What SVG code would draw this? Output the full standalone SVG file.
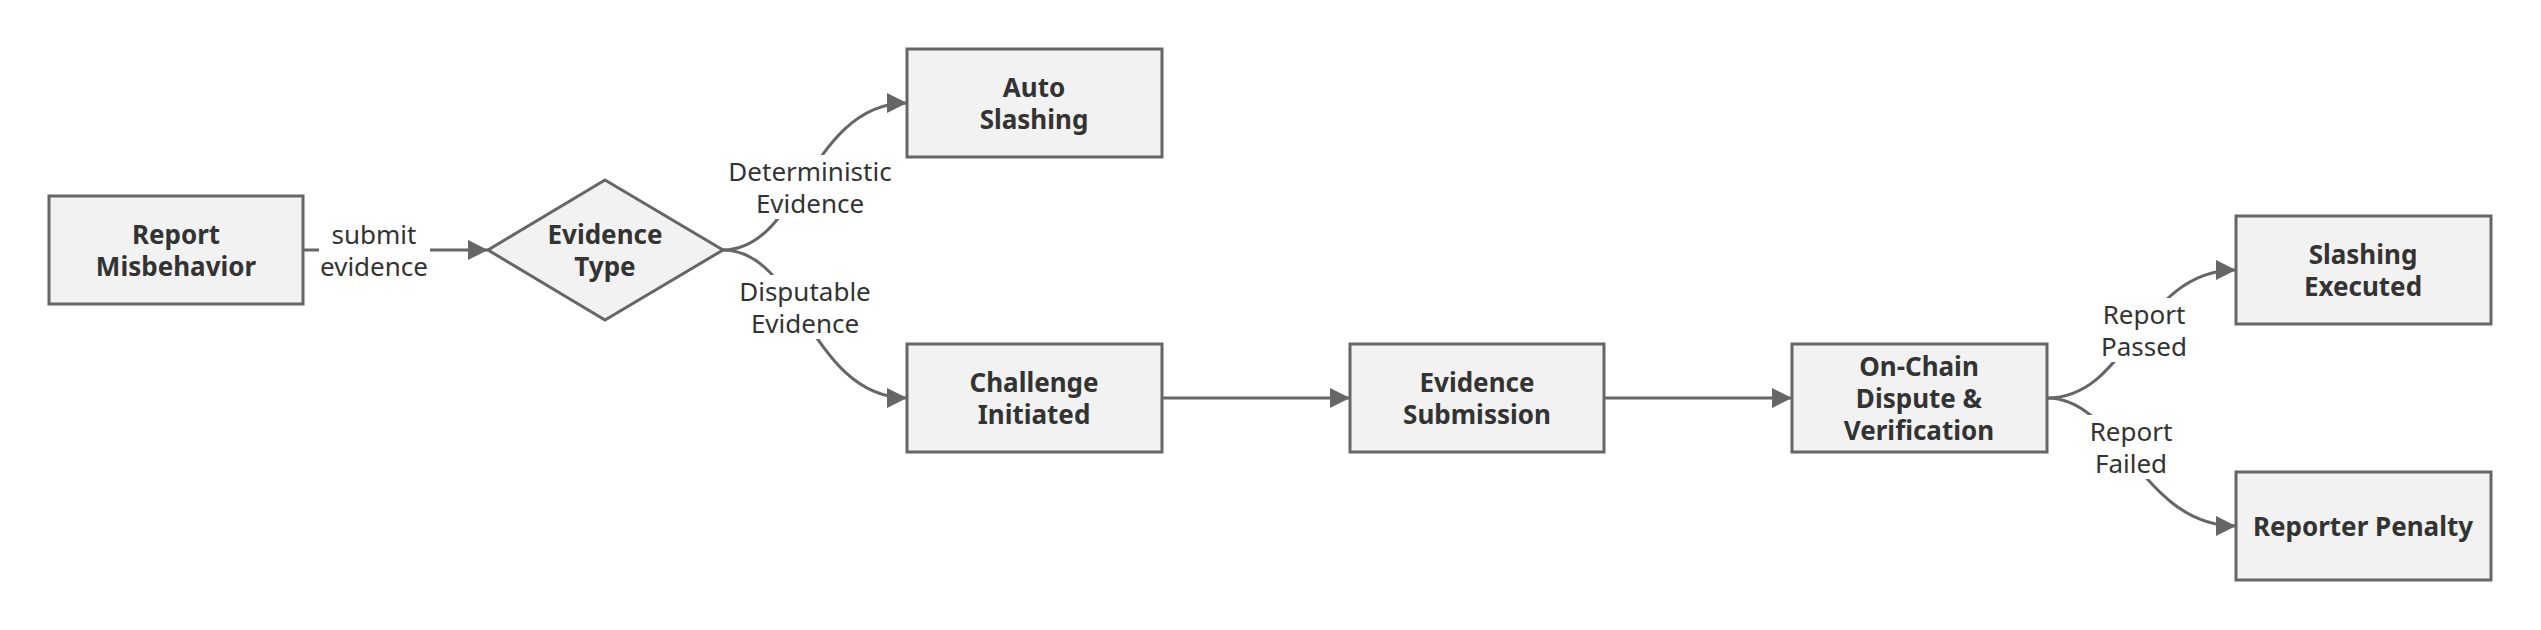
<svg xmlns="http://www.w3.org/2000/svg" width="2541" height="630" viewBox="0 0 2541 630">
<style>
.node rect,.node polygon{fill:#f2f2f2;stroke:#666;stroke-width:3}
.nt{font-family:"Noto Sans","Open Sans","DejaVu Sans",sans-serif;font-size:26px;font-weight:bold;fill:#333;text-anchor:middle;dominant-baseline:central}
.et{font-family:"Noto Sans","Open Sans","DejaVu Sans",sans-serif;font-size:26px;fill:#333;text-anchor:middle;dominant-baseline:central}
.edge{fill:none;stroke:#666;stroke-width:3;marker-end:url(#arr)}
.lbg{fill:#fff}
</style>
<defs>
<marker id="arr" viewBox="0 0 10 10" refX="10" refY="5" markerUnits="userSpaceOnUse" markerWidth="24" markerHeight="20" orient="auto">
<path d="M0,0 L10,5 L0,10 z" fill="#666"/>
</marker>
</defs>
<rect width="2541" height="630" fill="#fff"/>
<g id="connectors">
<path class="edge" d="M303,250 L488,250"/>
<path class="edge" d="M723,250 C800,250 810,103 907,103"/>
<path class="edge" d="M723,250 C800,250 810,398 907,398"/>
<path class="edge" d="M1162,398 L1350,398"/>
<path class="edge" d="M1604,398 L1792,398"/>
<path class="edge" d="M2047,398 C2130,398 2140,270 2236,270"/>
<path class="edge" d="M2047,398 C2120,398 2140,526 2236,526"/>
</g>
<g id="edge-labels">
<g id="lbl-submit"><rect class="lbg" x="319" y="218" width="111" height="64"/><text class="et" x="374" y="234">submit</text><text class="et" x="374" y="266">evidence</text></g>
<g id="lbl-det"><rect class="lbg" x="727" y="155" width="166" height="64"/><text class="et" x="810" y="171">Deterministic</text><text class="et" x="810" y="203">Evidence</text></g>
<g id="lbl-dis"><rect class="lbg" x="738" y="275" width="134" height="64"/><text class="et" x="805" y="291">Disputable</text><text class="et" x="805" y="323">Evidence</text></g>
<g id="lbl-pass"><rect class="lbg" x="2100" y="298" width="88" height="64"/><text class="et" x="2144" y="314">Report</text><text class="et" x="2144" y="346">Passed</text></g>
<g id="lbl-fail"><rect class="lbg" x="2087" y="415" width="88" height="64"/><text class="et" x="2131" y="431">Report</text><text class="et" x="2131" y="463">Failed</text></g>
</g>
<g id="report" class="node"><rect x="49" y="196" width="254" height="108"/><text class="nt" x="176" y="234">Report</text><text class="nt" x="176" y="266">Misbehavior</text></g>
<g id="evidence-type" class="node"><polygon points="605,180 723,250 605,320 488,250"/><text class="nt" x="605" y="234">Evidence</text><text class="nt" x="605" y="266">Type</text></g>
<g id="auto-slashing" class="node"><rect x="907" y="49" width="255" height="108"/><text class="nt" x="1034" y="87">Auto</text><text class="nt" x="1034" y="119">Slashing</text></g>
<g id="challenge" class="node"><rect x="907" y="344" width="255" height="108"/><text class="nt" x="1034" y="382">Challenge</text><text class="nt" x="1034" y="414">Initiated</text></g>
<g id="submission" class="node"><rect x="1350" y="344" width="254" height="108"/><text class="nt" x="1477" y="382">Evidence</text><text class="nt" x="1477" y="414">Submission</text></g>
<g id="onchain" class="node"><rect x="1792" y="344" width="255" height="108"/><text class="nt" x="1919" y="366">On-Chain</text><text class="nt" x="1919" y="398">Dispute &amp;</text><text class="nt" x="1919" y="430">Verification</text></g>
<g id="slashing-executed" class="node"><rect x="2236" y="216" width="255" height="108"/><text class="nt" x="2363" y="254">Slashing</text><text class="nt" x="2363" y="286">Executed</text></g>
<g id="reporter-penalty" class="node"><rect x="2236" y="472" width="255" height="108"/><text class="nt" x="2363" y="526">Reporter Penalty</text></g>
</svg>
